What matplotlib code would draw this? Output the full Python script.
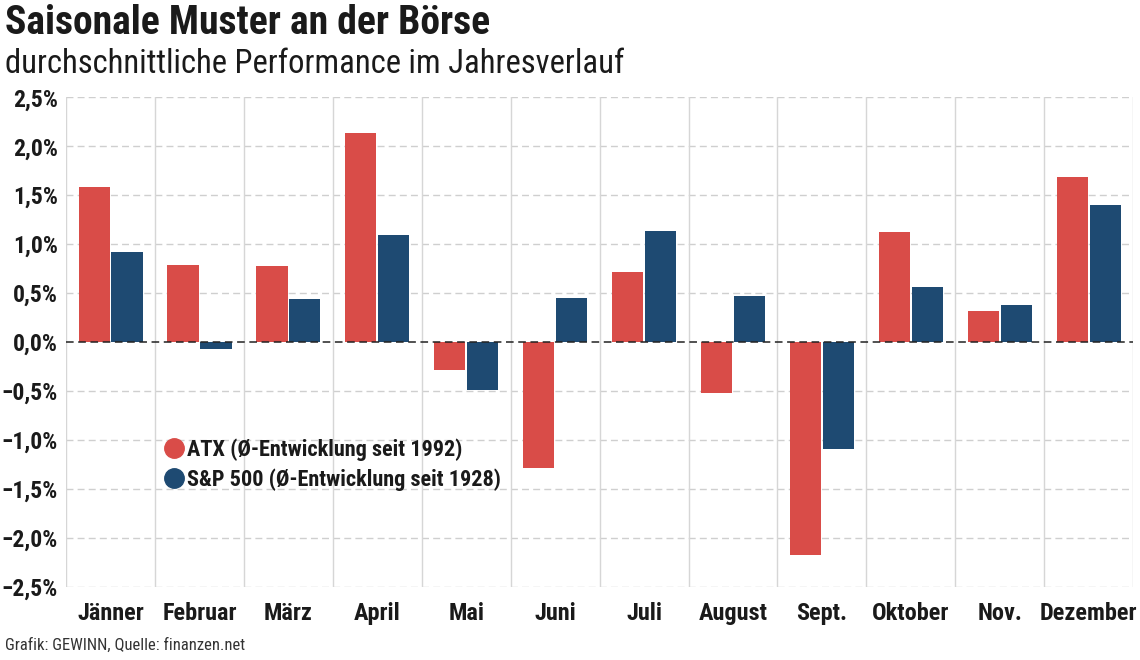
import numpy as np
import matplotlib.pyplot as plt
from matplotlib.lines import Line2D
from matplotlib.ticker import FuncFormatter, MultipleLocator

plt.rcParams['font.family'] = ['Roboto Condensed', 'Barlow Condensed', 'DejaVu Sans']

#### data (average monthly performance in %) ####
months = ['Jänner', 'Februar', 'März', 'April', 'Mai', 'Juni',
          'Juli', 'August', 'Sept.', 'Oktober', 'Nov.', 'Dezember']
atx = [1.58, 0.79, 0.78, 2.14, -0.28, -1.29, 0.72, -0.52, -2.17, 1.12, 0.32, 1.69]
spx = [0.92, -0.07, 0.44, 1.09, -0.49, 0.45, 1.13, 0.47, -1.09, 0.56, 0.38, 1.40]
series_labels = ['ATX (Ø-Entwicklung seit 1992)', 'S&P 500 (Ø-Entwicklung seit 1928)']

RED = '#d94c48'
BLUE = '#1e4a72'

fig = plt.figure(figsize=(11.4, 6.6), dpi=100)
ax = fig.add_axes([0.058, 0.1106, 0.936, 0.742])

x = np.arange(len(months))
w = 0.35
ax.bar(x - 0.185, atx, w, color=RED, zorder=3)
ax.bar(x + 0.185, spx, w, color=BLUE, zorder=3)

ax.set_xlim(-0.5, len(months) - 0.5)
ax.set_ylim(-2.5, 2.5)

# grid: dashed horizontals, solid month separators
for yv in np.arange(-2.5, 2.51, 0.5):
    if abs(yv) < 1e-9:
        ax.axhline(0, color='#222222', lw=1.1, ls=(0, (5, 3)), zorder=4)
    else:
        ax.axhline(yv, color='#cfcfcf', lw=1.0, ls=(0, (5, 3)), zorder=1)
for xv in np.arange(-0.5, len(months), 1.0):
    ax.axvline(xv, color='#d6d6d6', lw=1.0, zorder=1)

for s in ax.spines.values():
    s.set_visible(False)

ax.yaxis.set_major_locator(MultipleLocator(0.5))
ax.yaxis.set_major_formatter(FuncFormatter(
    lambda v, p: ('−' if v < -1e-9 else '') + '{:.1f}%'.format(abs(v)).replace('.', ',')))
ax.set_xticks(x)
ax.set_xticklabels(months)
ax.tick_params(axis='both', length=0, labelsize=17, labelcolor='#1a1a1a')
ax.tick_params(axis='y', pad=6)
ax.tick_params(axis='x', pad=11)
for lab in ax.get_xticklabels():
    lab.set_fontsize(17.5)
for lab in ax.get_xticklabels() + ax.get_yticklabels():
    lab.set_fontweight('bold')

handles = [Line2D([], [], marker='o', ls='', color=RED, markersize=14),
           Line2D([], [], marker='o', ls='', color=BLUE, markersize=14)]
leg = ax.legend(handles, series_labels, loc='upper left', bbox_to_anchor=(0.072, 0.345),
                frameon=False, handletextpad=0.1, labelspacing=0.35, handlelength=1.0,
                prop={'size': 16, 'weight': 'bold'})
for t in leg.get_texts():
    t.set_color('#1a1a1a')

fig.text(0.004, 0.965, 'Saisonale Muster an der Börse', fontsize=28.5, fontweight='bold',
         color='#1a1a1a', va='center', ha='left')
fig.text(0.004, 0.903, 'durchschnittliche Performance im Jahresverlauf', fontsize=23.5,
         color='#1a1a1a', va='center', ha='left')
fig.text(0.004, 0.022, 'Grafik: GEWINN, Quelle: finanzen.net', fontsize=12,
         color='#333333', va='center', ha='left')

fig.savefig('out.png', dpi=100, facecolor='white')
